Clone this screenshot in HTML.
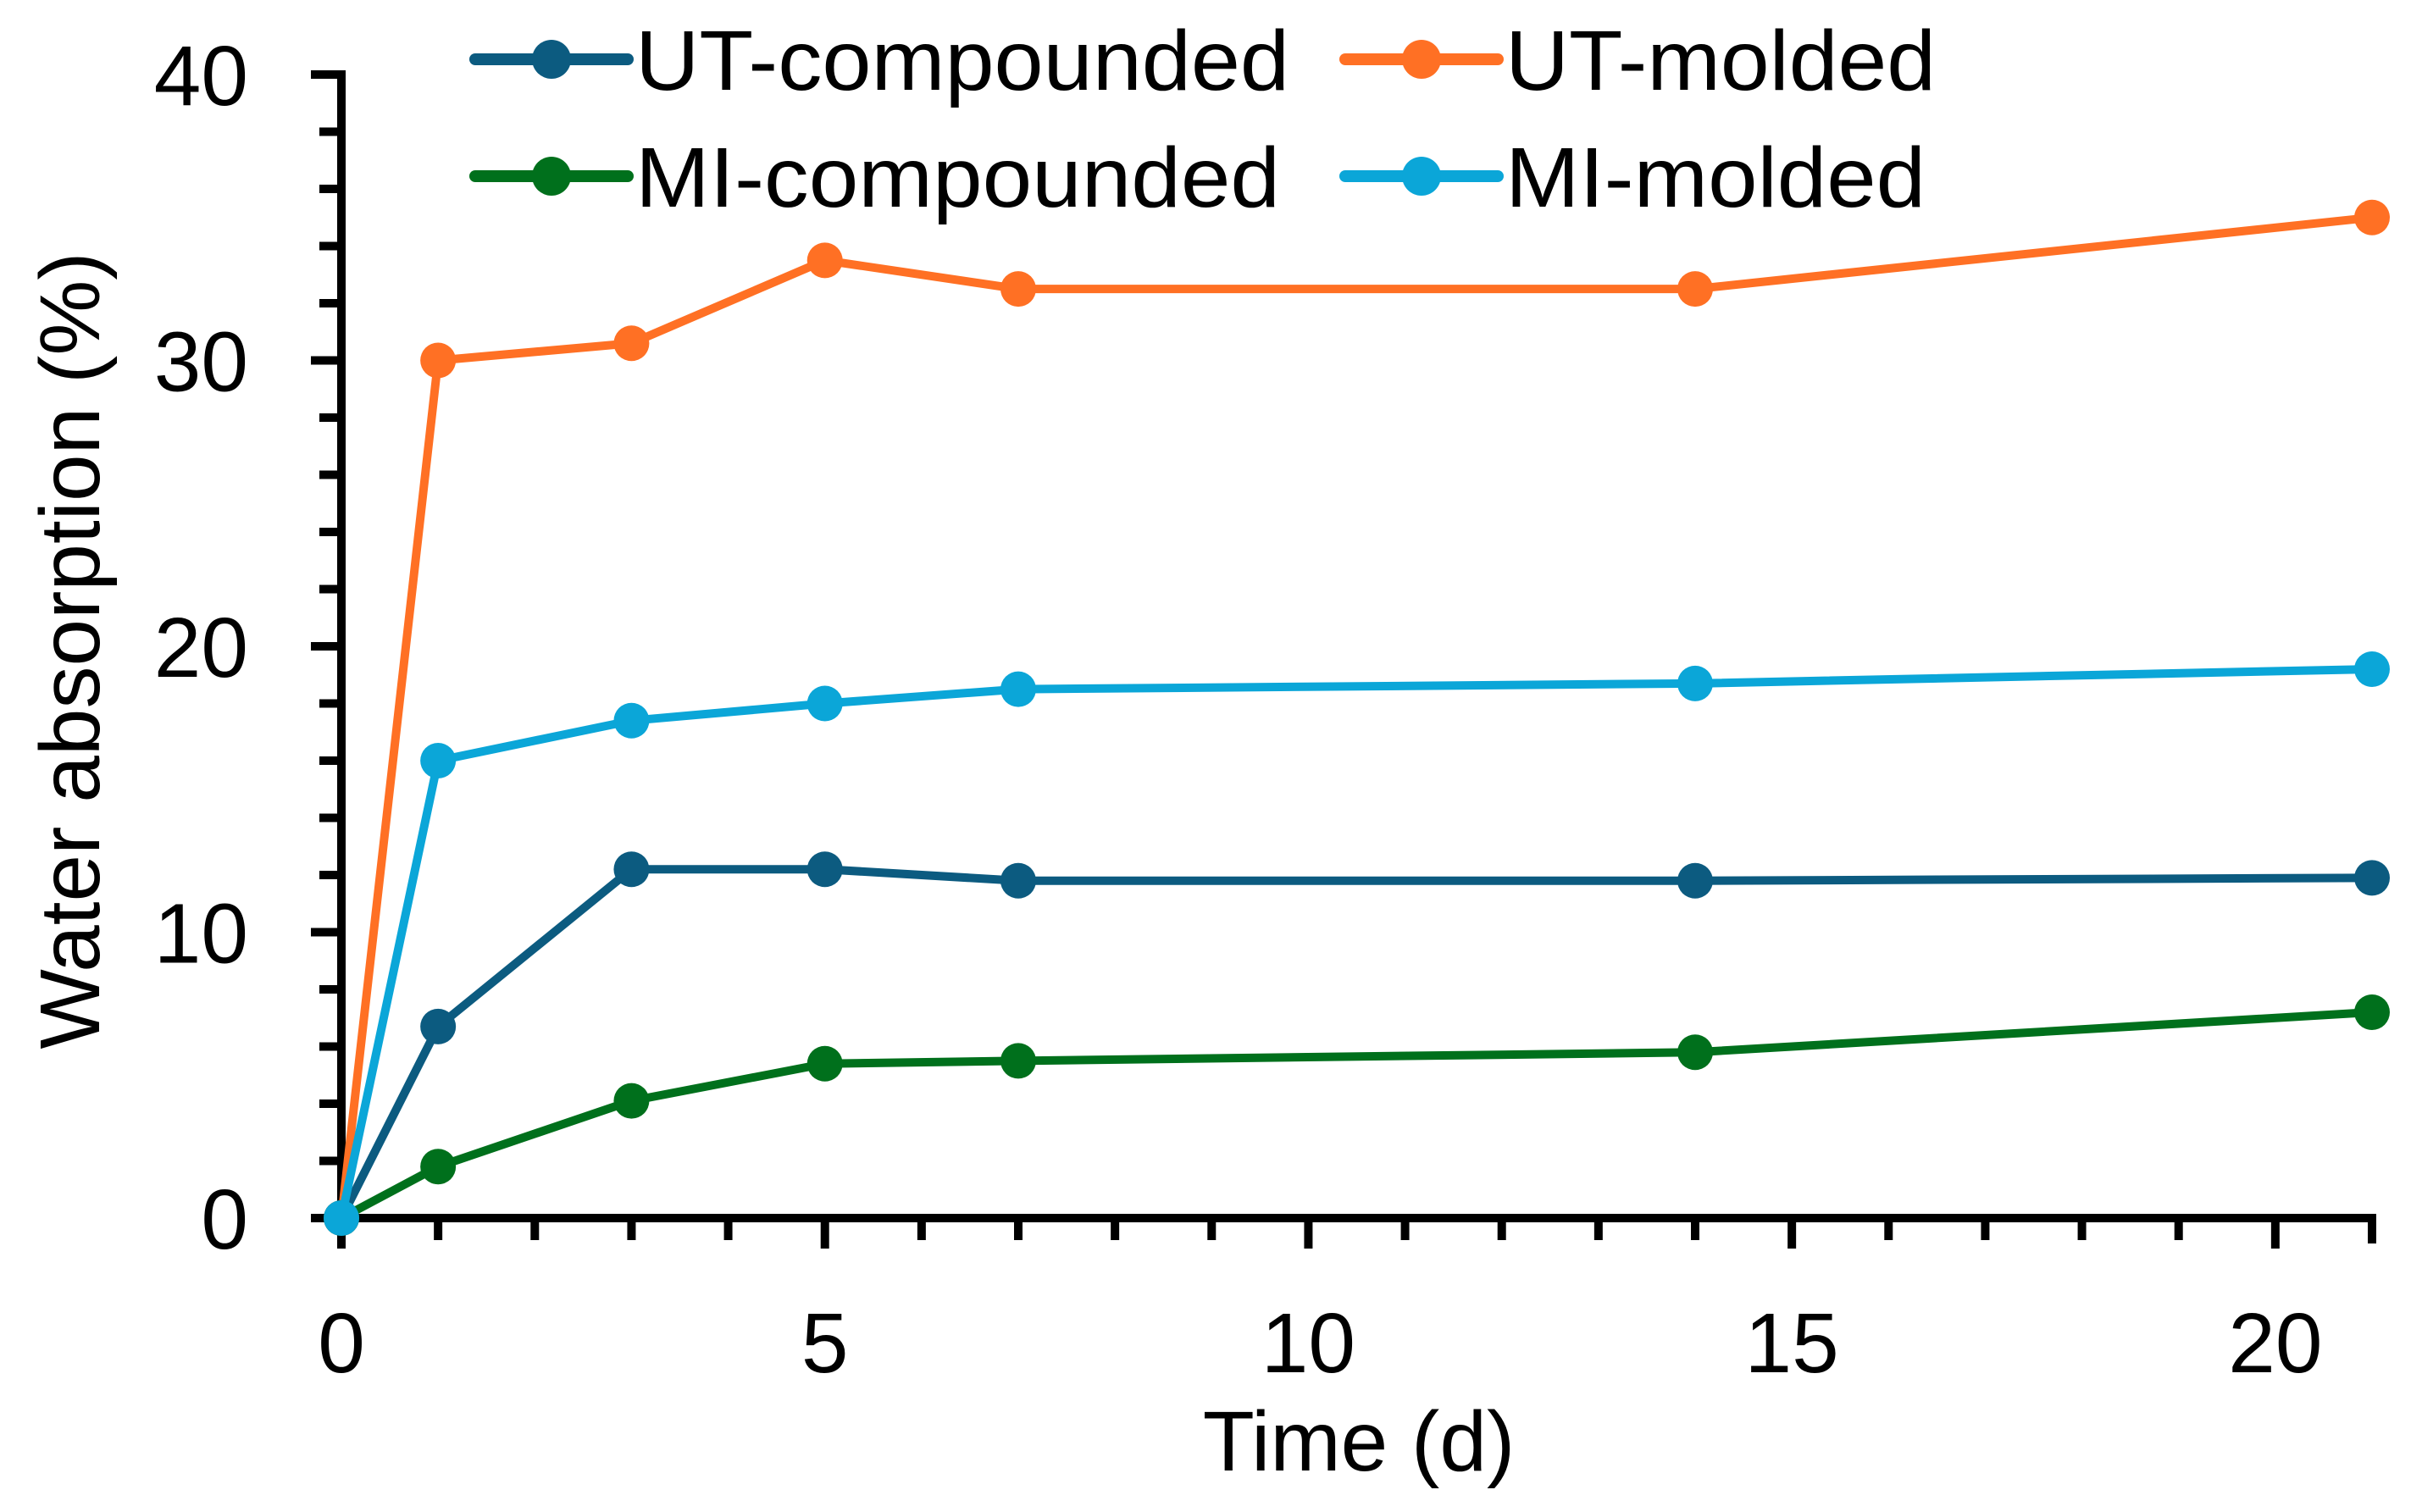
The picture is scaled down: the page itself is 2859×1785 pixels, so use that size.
<!DOCTYPE html>
<html><head><meta charset="utf-8"><style>
html,body{margin:0;padding:0;background:#fff;}
svg{display:block;font-family:"Liberation Sans",sans-serif;}
</style></head><body>
<svg id="chart" width="2859" height="1785" viewBox="0 0 2859 1785" xmlns="http://www.w3.org/2000/svg">
<g id="axes"></g>
<g id="series"></g>
<text x="1604" y="1736" font-size="100" text-anchor="middle">Time (d)</text>
<text transform="translate(117,768) rotate(-90)" font-size="100" text-anchor="middle">Water absorption (%)</text>
<g id="legend"></g>
</svg>
<script>
const days = [0, 1, 3, 5, 7, 14, 21];
const utCompounded = [0, 6.7, 12.2, 12.2, 11.8, 11.8, 11.9];
const utMolded = [0, 30.0, 30.6, 33.5, 32.5, 32.5, 35.0];
const miCompounded = [0, 1.8, 4.1, 5.4, 5.5, 5.8, 7.2];
const miMolded = [0, 16.0, 17.4, 18.0, 18.5, 18.7, 19.2];
const xTickLabels = ["0", "5", "10", "15", "20"];
const yTickLabels = ["0", "10", "20", "30", "40"];
const seriesNames = ["UT-compounded", "UT-molded", "MI-compounded", "MI-molded"];

const NS = "http://www.w3.org/2000/svg";
const X0 = 403, X1 = 2800, XMAX = 21;
const Y0 = 1438, Y1 = 88, YMAX = 40;
function xs(v){ return X0 + (X1 - X0) * v / XMAX; }
function ys(v){ return Y0 - (Y0 - Y1) * v / YMAX; }
function mk(tag, attrs, parent){
  const e = document.createElementNS(NS, tag);
  for (const k in attrs) e.setAttribute(k, attrs[k]);
  parent.appendChild(e);
  return e;
}
const axes = document.getElementById('axes');
let el = mk('path', {d:`M${X0-36},${Y1} L${X0},${Y1} L${X0},${Y0} L${X1},${Y0} L${X1},${Y0+30}`, fill:'none', stroke:'#000', 'stroke-width':10}, axes);


for (let v = 0; v <= YMAX; v += 2) {
  const major = v % 10 === 0;
  el = mk('line', {x1:X0, x2:X0 - (major?36:26), y1:ys(v), y2:ys(v), stroke:'#000', 'stroke-width':10}, axes);
  
  
}
yTickLabels.forEach(t => {
  el = mk('text', {x:293, y:ys(+t)+36, 'font-size':100, 'text-anchor':'end'}, axes);
  el.textContent = t;
  
  
});
for (let v = 0; v <= XMAX; v += 1) {
  const major = v % 5 === 0;
  el = mk('line', {x1:xs(v), x2:xs(v), y1:Y0, y2:Y0 + (major?36:26), stroke:'#000', 'stroke-width':10}, axes);
  
  
}
xTickLabels.forEach(t => {
  el = mk('text', {x:xs(+t), y:1620, 'font-size':100, 'text-anchor':'middle'}, axes);
  el.textContent = t;
  
  
});
const colors = ['#0c5b80', '#ff7024', '#00701c', '#0ba6d8'];
const data = [utCompounded, utMolded, miCompounded, miMolded];
const ser = document.getElementById('series');
const order = [1, 0, 2, 3];
order.forEach(i => {
  const g = mk('g', {}, ser);
  
  
  const pts = days.map((d, j) => xs(d) + ',' + ys(data[i][j])).join(' ');
  el = mk('polyline', {points:pts, fill:'none', stroke:colors[i], 'stroke-width':10, 'stroke-linejoin':'round'}, g);
  
  
  days.forEach((d, j) => {
    el = mk('circle', {cx:xs(d), cy:ys(data[i][j]), r:21, fill:colors[i]}, g);
    
    
  });
});
const leg = document.getElementById('legend');
const legPos = [[561, 70, 1522], [1588, 70, 2285], [561, 208, 1511], [1588, 208, 2273]];
seriesNames.forEach((n, i) => {
  const [lx, ly, tx2] = legPos[i];
  const g = mk('g', {}, leg);
  
  
  el = mk('line', {x1:lx, x2:lx+180, y1:ly, y2:ly, stroke:colors[i], 'stroke-width':14, 'stroke-linecap':'round'}, g);
  
  
  el = mk('circle', {cx:lx+90, cy:ly, r:23, fill:colors[i]}, g);
  
  
  el = mk('text', {x:lx+189, y:ly+36, 'font-size':100, textLength:tx2-(lx+189), lengthAdjust:'spacingAndGlyphs'}, g);
  el.textContent = n;
  
  
});
</script>
</body></html>
